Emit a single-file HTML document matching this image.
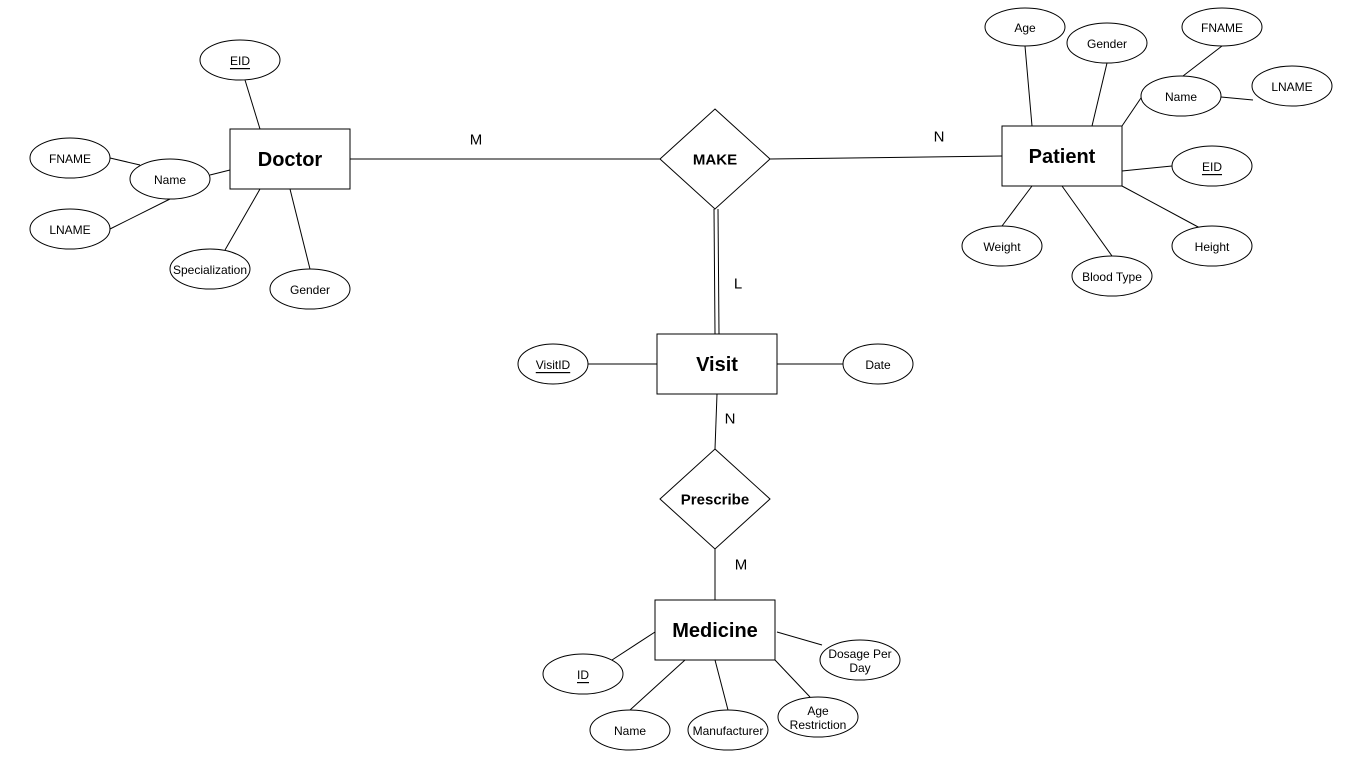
<!DOCTYPE html>
<html><head><meta charset="utf-8"><style>
html,body{margin:0;padding:0;background:#fff;}
svg{display:block;}
text{font-family:"Liberation Sans",Arial,sans-serif;fill:#000;}
.a{font-size:12px;text-anchor:middle;dominant-baseline:central;}
.e{font-size:20px;font-weight:bold;text-anchor:middle;dominant-baseline:central;}
.r{font-size:15px;font-weight:bold;text-anchor:middle;dominant-baseline:central;}
.l{font-size:15px;text-anchor:middle;dominant-baseline:central;}
</style></head><body>
<svg width="1355" height="769" viewBox="0 0 1355 769" xmlns="http://www.w3.org/2000/svg">
<g stroke="#000" stroke-width="1" fill="none">
<line x1="245" y1="80" x2="260" y2="129"/>
<line x1="210" y1="175" x2="230" y2="170"/>
<line x1="110" y1="158" x2="140" y2="165"/>
<line x1="110" y1="229" x2="170" y2="199"/>
<line x1="225" y1="250" x2="260" y2="189"/>
<line x1="310" y1="269" x2="290" y2="189"/>
<line x1="350" y1="159" x2="660" y2="159"/>
<line x1="770" y1="159" x2="1002" y2="156"/>
<line x1="1025" y1="46" x2="1032" y2="126"/>
<line x1="1107" y1="63" x2="1092" y2="126"/>
<line x1="1145" y1="92" x2="1122" y2="126"/>
<line x1="1222" y1="46" x2="1183" y2="76"/>
<line x1="1221" y1="97" x2="1253" y2="100"/>
<line x1="1122" y1="171" x2="1172" y2="166"/>
<line x1="1032" y1="186" x2="1002" y2="226"/>
<line x1="1062" y1="186" x2="1112" y2="256"/>
<line x1="1122" y1="186" x2="1200" y2="228"/>
<line x1="714" y1="209" x2="715" y2="334"/>
<line x1="718" y1="209" x2="719" y2="334"/>
<line x1="588" y1="364" x2="657" y2="364"/>
<line x1="777" y1="364" x2="843" y2="364"/>
<line x1="717" y1="394" x2="715" y2="449"/>
<line x1="715" y1="549" x2="715" y2="600"/>
<line x1="612" y1="660" x2="655" y2="632"/>
<line x1="630" y1="710" x2="685" y2="660"/>
<line x1="728" y1="710" x2="715" y2="660"/>
<line x1="810" y1="697" x2="775" y2="660"/>
<line x1="822" y1="645" x2="777" y2="632"/>
</g>
<g stroke="#000" stroke-width="1" fill="#fff">
<rect x="230" y="129" width="120" height="60"/>
<rect x="1002" y="126" width="120" height="60"/>
<rect x="657" y="334" width="120" height="60"/>
<rect x="655" y="600" width="120" height="60"/>
<polygon points="715,109 770,159 715,209 660,159"/>
<polygon points="715,449 770,499 715,549 660,499"/>
<ellipse cx="240" cy="60" rx="40" ry="20"/>
<ellipse cx="170" cy="179" rx="40" ry="20"/>
<ellipse cx="70" cy="158" rx="40" ry="20"/>
<ellipse cx="70" cy="229" rx="40" ry="20"/>
<ellipse cx="210" cy="269" rx="40" ry="20"/>
<ellipse cx="310" cy="289" rx="40" ry="20"/>
<ellipse cx="1025" cy="27" rx="40" ry="19"/>
<ellipse cx="1107" cy="43" rx="40" ry="20"/>
<ellipse cx="1181" cy="96" rx="40" ry="20"/>
<ellipse cx="1222" cy="27" rx="40" ry="19"/>
<ellipse cx="1292" cy="86" rx="40" ry="20"/>
<ellipse cx="1212" cy="166" rx="40" ry="20"/>
<ellipse cx="1002" cy="246" rx="40" ry="20"/>
<ellipse cx="1112" cy="276" rx="40" ry="20"/>
<ellipse cx="1212" cy="246" rx="40" ry="20"/>
<ellipse cx="553" cy="364" rx="35" ry="20"/>
<ellipse cx="878" cy="364" rx="35" ry="20"/>
<ellipse cx="583" cy="674" rx="40" ry="20"/>
<ellipse cx="630" cy="730" rx="40" ry="20"/>
<ellipse cx="728" cy="730" rx="40" ry="20"/>
<ellipse cx="818" cy="717" rx="40" ry="20"/>
<ellipse cx="860" cy="660" rx="40" ry="20"/>
</g>
<g transform="translate(0,1)">
<text class="e" x="290" y="159">Doctor</text>
<text class="e" x="1062" y="156">Patient</text>
<text class="e" x="717" y="364">Visit</text>
<text class="e" x="715" y="630">Medicine</text>
<text class="r" x="715" y="159">MAKE</text>
<text class="r" x="715" y="499">Prescribe</text>
<text class="l" x="476" y="139">M</text>
<text class="l" x="939" y="136">N</text>
<text class="l" x="738" y="283">L</text>
<text class="l" x="730" y="418">N</text>
<text class="l" x="741" y="564">M</text>
<text class="a" x="240" y="60" text-decoration="underline">EID</text>
<text class="a" x="170" y="179">Name</text>
<text class="a" x="70" y="158">FNAME</text>
<text class="a" x="70" y="229">LNAME</text>
<text class="a" x="210" y="269">Specialization</text>
<text class="a" x="310" y="289">Gender</text>
<text class="a" x="1025" y="27">Age</text>
<text class="a" x="1107" y="43">Gender</text>
<text class="a" x="1181" y="96">Name</text>
<text class="a" x="1222" y="27">FNAME</text>
<text class="a" x="1292" y="86">LNAME</text>
<text class="a" x="1212" y="166" text-decoration="underline">EID</text>
<text class="a" x="1002" y="246">Weight</text>
<text class="a" x="1112" y="276">Blood Type</text>
<text class="a" x="1212" y="246">Height</text>
<text class="a" x="553" y="364" text-decoration="underline">VisitID</text>
<text class="a" x="878" y="364">Date</text>
<text class="a" x="583" y="674" text-decoration="underline">ID</text>
<text class="a" x="630" y="730">Name</text>
<text class="a" x="728" y="730">Manufacturer</text>
<text class="a" x="818" y="710">Age</text>
<text class="a" x="818" y="724">Restriction</text>
<text class="a" x="860" y="653">Dosage Per</text>
<text class="a" x="860" y="667">Day</text>
</g>
</svg>
</body></html>
